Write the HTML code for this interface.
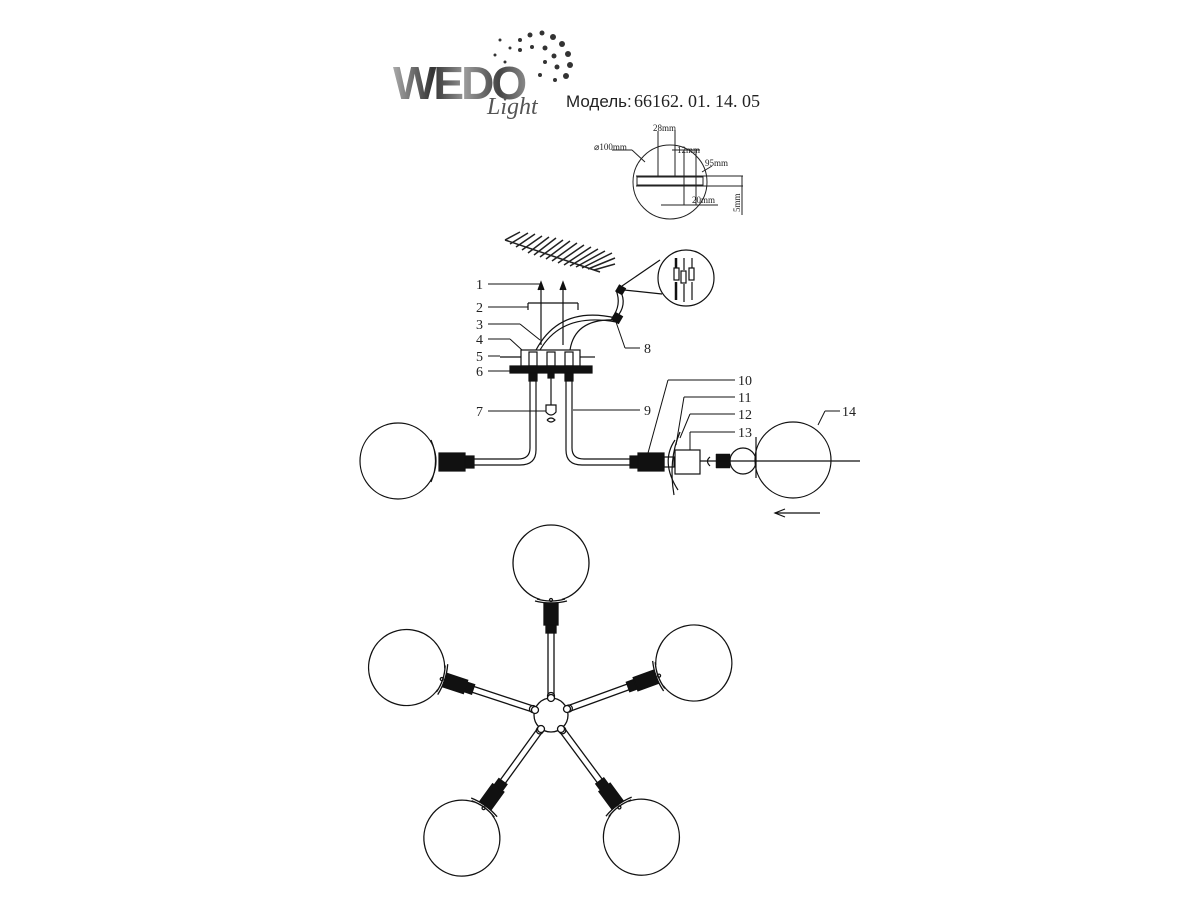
<!DOCTYPE html>
<html><head><meta charset="utf-8"><style>
html,body{margin:0;padding:0;background:#fff;width:1200px;height:900px;overflow:hidden}
svg{display:block}
text{font-family:"Liberation Serif",serif}
</style></head><body>
<svg width="1200" height="900" viewBox="0 0 1200 900" xmlns="http://www.w3.org/2000/svg">
<defs>
<linearGradient id="g" x1="0" x2="1" y1="0" y2="0">
<stop offset="0" stop-color="#aaa"/><stop offset="0.3" stop-color="#333"/><stop offset="0.55" stop-color="#999"/><stop offset="0.8" stop-color="#444"/><stop offset="1" stop-color="#888"/>
</linearGradient>
<g id="arm" stroke="#111" stroke-width="1.3" fill="none">
<line x1="17" y1="-3" x2="82" y2="-3"/><line x1="17" y1="3" x2="82" y2="3"/>
<circle cx="19" cy="0" r="3.5" fill="#fff"/>
<rect x="82" y="-5" width="8" height="10" fill="#111"/>
<rect x="90" y="-7" width="22" height="14" fill="#111"/>
<path d="M114,-16 Q110,0 114,16"/>
<circle cx="152" cy="0" r="38" fill="#fff"/>
<path d="M116,-14 Q112,0 116,14" fill="#fff"/>
<circle cx="115" cy="0" r="1.5"/>
</g>
</defs>

<!-- logo -->
<g fill="#333">
<circle cx="520" cy="40" r="2"/><circle cx="530" cy="35" r="2.5"/><circle cx="542" cy="33" r="2.5"/><circle cx="553" cy="37" r="3"/><circle cx="562" cy="44" r="3"/><circle cx="568" cy="54" r="3"/><circle cx="570" cy="65" r="3"/><circle cx="566" cy="76" r="3"/>
<circle cx="510" cy="48" r="1.5"/><circle cx="520" cy="50" r="2"/><circle cx="532" cy="47" r="2"/><circle cx="545" cy="48" r="2.5"/><circle cx="554" cy="56" r="2.5"/><circle cx="557" cy="67" r="2.5"/><circle cx="500" cy="40" r="1.5"/><circle cx="495" cy="55" r="1.5"/><circle cx="505" cy="62" r="1.5"/><circle cx="545" cy="62" r="2"/><circle cx="540" cy="75" r="2"/><circle cx="555" cy="80" r="2"/>
</g>
<text x="393" y="99" font-weight="bold" font-size="46" fill="url(#g)" letter-spacing="-3" style="font-family:'Liberation Sans',sans-serif">WEDO</text>
<text x="487" y="114" font-style="italic" font-size="24" fill="#555">Light</text>
<text x="566" y="107" font-size="17" fill="#222" style="font-family:'Liberation Sans','DejaVu Sans',sans-serif">Модель:</text>
<text x="634" y="107" font-size="18" fill="#222">66162. 01. 14. 05</text>

<!-- mount detail -->
<g stroke="#222" stroke-width="1" fill="none">
<circle cx="670" cy="182" r="37"/>
<line x1="636" y1="176" x2="743" y2="176"/><line x1="636" y1="186" x2="743" y2="186"/>
<rect x="637" y="177" width="66" height="8"/>
<line x1="658" y1="131" x2="658" y2="176"/><line x1="675" y1="131" x2="675" y2="176"/>
<line x1="672" y1="150" x2="700" y2="150"/><line x1="684" y1="150" x2="684" y2="205"/><line x1="696" y1="150" x2="696" y2="205"/>
<line x1="661" y1="205" x2="718" y2="205"/>
<line x1="612" y1="150" x2="632" y2="150"/><line x1="632" y1="150" x2="645" y2="162"/>
<line x1="702" y1="172" x2="712" y2="166"/>
<line x1="742" y1="176" x2="742" y2="215"/>
</g>
<g fill="#222">
<text x="594" y="150" font-size="9">⌀100mm</text>
<text x="653" y="131" font-size="9">28mm</text>
<text x="677" y="153" font-size="9">12mm</text>
<text x="705" y="166" font-size="9">95mm</text>
<text x="692" y="203" font-size="9">20mm</text>
<text x="740" y="212" font-size="9" transform="rotate(-90 740 212)">5mm</text>
</g>

<!-- ceiling hatch -->
<g stroke="#222" stroke-width="1.5">
<path d="M505,240 L520,232 M510,244 L528,233 M516,247 L535,234 M522,250 L542,236 M528,253 L549,237 M534,255 L556,238 M540,257 L563,240 M546,259 L570,241 M552,261 L577,243 M558,263 L584,245 M564,265 L591,247 M570,266 L598,249 M576,267 L605,251 M582,268 L612,253 M588,269 L615,258 M594,270 L615,264"/>
<line x1="505" y1="240" x2="600" y2="272"/>
</g>

<!-- assembly -->
<g stroke="#111" stroke-width="1.2" fill="none">
<rect x="521" y="350" width="59" height="16" fill="#fff"/>
<rect x="510" y="366" width="82" height="7" fill="#111"/>
<rect x="529" y="352" width="8" height="14"/><rect x="547" y="352" width="8" height="14"/><rect x="565" y="352" width="8" height="14"/>
<rect x="529" y="373" width="8" height="8" fill="#111"/><rect x="565" y="373" width="8" height="8" fill="#111"/><rect x="548" y="373" width="6" height="5" fill="#111"/>
<line x1="541" y1="285" x2="541" y2="345"/><line x1="563" y1="285" x2="563" y2="345"/>
<path d="M538,290 L541,282 L544,290" fill="#111"/><path d="M560,290 L563,282 L566,290" fill="#111"/>
<line x1="528" y1="303" x2="528" y2="310"/><line x1="528" y1="303" x2="578" y2="303"/><line x1="578" y1="303" x2="578" y2="310"/>
<path d="M536,350 Q560,305 616,318"/><path d="M540,350 Q562,312 616,322"/><path d="M570,350 Q575,318 616,320"/>
<path d="M616,318 Q628,305 620,290"/><path d="M612,318 Q622,305 616,290"/>
<rect x="613" y="314" width="8" height="8" fill="#111" transform="rotate(30 617 318)"/>
<rect x="617" y="286" width="7" height="7" fill="#111" transform="rotate(30 620 290)"/>
<circle cx="686" cy="278" r="28" fill="#fff"/>
<line x1="624" y1="290" x2="662" y2="294"/><line x1="622" y1="286" x2="660" y2="260"/>
<rect x="674" y="268" width="5" height="12"/><rect x="681" y="271" width="5" height="12"/><rect x="689" y="268" width="5" height="12"/>
<line x1="676" y1="258" x2="676" y2="268" stroke-width="2.5"/><line x1="684" y1="258" x2="684" y2="270"/><line x1="692" y1="258" x2="692" y2="268"/>
<line x1="676" y1="282" x2="676" y2="300" stroke-width="2.5"/><line x1="684" y1="284" x2="684" y2="302"/><line x1="692" y1="282" x2="692" y2="300"/>
<path d="M530,381 L530,448 Q530,459 518,459 L472,459"/><path d="M536,381 L536,450 Q536,465 520,465 L472,465"/>
<path d="M566,381 L566,450 Q566,465 582,465 L630,465"/><path d="M572,381 L572,448 Q572,459 584,459 L630,459"/>
<line x1="551" y1="378" x2="551" y2="408"/>
<path d="M546,405 L556,405 L556,412 Q551,418 546,412 Z" fill="#fff"/>
<path d="M547,420 Q551,416 555,420 Q551,424 547,420"/>
<rect x="464" y="456" width="10" height="12" fill="#111"/><rect x="439" y="453" width="26" height="18" fill="#111"/>
<circle cx="398" cy="461" r="38" fill="#fff"/>
<path d="M431,440 Q440,461 431,482"/>
<rect x="630" y="456" width="10" height="12" fill="#111"/><rect x="638" y="453" width="26" height="18" fill="#111"/>
<path d="M675,440 Q660,462 678,490"/><path d="M680,432 Q668,460 674,495"/>
<rect x="664" y="457" width="10" height="10" />
<rect x="675" y="450" width="25" height="24" fill="#fff"/>
<path d="M710,457 Q705,461 710,466"/>
<path d="M716,454 L730,454 L730,468 L716,468 Z" fill="#111" stroke-width="0.5"/>
<circle cx="743" cy="461" r="13" fill="#fff"/>
<path d="M756,437 L756,478"/>
<circle cx="793" cy="460" r="38"/>
<line x1="700" y1="461" x2="860" y2="461"/>
<line x1="775" y1="513" x2="820" y2="513"/><path d="M785,509 L775,513 L785,517" />
<path d="M521,357 L500,357" /><path d="M580,357 L595,357"/>
</g>
<g stroke="#111" stroke-width="1" fill="none">
<line x1="488" y1="284" x2="540" y2="284"/>
<line x1="488" y1="307" x2="528" y2="307"/>
<line x1="488" y1="324" x2="520" y2="324"/><line x1="520" y1="324" x2="540" y2="340"/>
<line x1="488" y1="339" x2="510" y2="339"/><line x1="510" y1="339" x2="522" y2="350"/>
<line x1="488" y1="356" x2="500" y2="356"/>
<line x1="488" y1="371" x2="510" y2="371"/>
<line x1="488" y1="411" x2="546" y2="411"/>
<line x1="616" y1="322" x2="625" y2="348"/><line x1="625" y1="348" x2="640" y2="348"/>
<line x1="573" y1="410" x2="640" y2="410"/>
<line x1="648" y1="453" x2="668" y2="380"/><line x1="668" y1="380" x2="735" y2="380"/>
<line x1="676" y1="445" x2="684" y2="397"/><line x1="684" y1="397" x2="735" y2="397"/>
<line x1="680" y1="438" x2="690" y2="414"/><line x1="690" y1="414" x2="735" y2="414"/>
<line x1="690" y1="450" x2="690" y2="432"/><line x1="690" y1="432" x2="735" y2="432"/>
<line x1="818" y1="425" x2="825" y2="411"/><line x1="825" y1="411" x2="840" y2="411"/>
</g>
<g font-size="14" fill="#222">
<text x="476" y="289">1</text><text x="476" y="312">2</text><text x="476" y="329">3</text><text x="476" y="344">4</text><text x="476" y="361">5</text><text x="476" y="376">6</text><text x="476" y="416">7</text>
<text x="644" y="353">8</text><text x="644" y="415">9</text>
<text x="738" y="385">10</text><text x="738" y="402">11</text><text x="738" y="419">12</text><text x="738" y="437">13</text><text x="842" y="416">14</text>
</g>

<g transform="translate(551,715)">
<use href="#arm" transform="rotate(-90)"/>
<use href="#arm" transform="rotate(-161.8)"/>
<use href="#arm" transform="rotate(-20)"/>
<use href="#arm" transform="rotate(125.9)"/>
<use href="#arm" transform="rotate(53.5)"/>
<circle cx="0" cy="0" r="17" fill="#fff" stroke="#111" stroke-width="1.3"/>
<g fill="#fff" stroke="#111" stroke-width="1.3">
<circle cx="0" cy="-17" r="3.5"/><circle cx="-16" cy="-5" r="3.5"/><circle cx="16" cy="-6" r="3.5"/><circle cx="-10" cy="14" r="3.5"/><circle cx="10" cy="14" r="3.5"/>
</g>
</g>
</svg>
</body></html>
